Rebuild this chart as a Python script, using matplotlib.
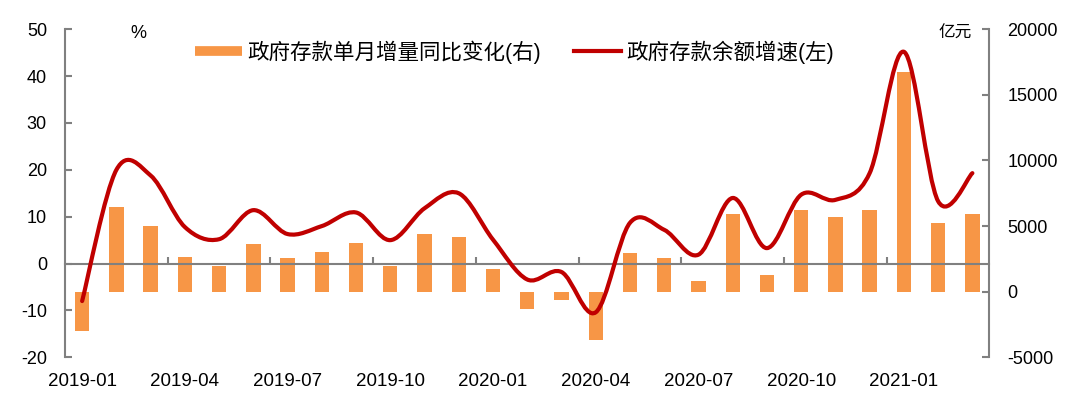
import numpy as np
import matplotlib
matplotlib.use('Agg')
import matplotlib.pyplot as plt
from matplotlib.path import Path
from matplotlib.patches import PathPatch
from matplotlib.lines import Line2D

plt.rcParams['font.family'] = ['Liberation Sans', 'Noto Sans CJK SC', 'DejaVu Sans']
plt.rcParams['axes.unicode_minus'] = False

months = ['2019-01', '2019-02', '2019-03', '2019-04', '2019-05', '2019-06',
          '2019-07', '2019-08', '2019-09', '2019-10', '2019-11', '2019-12',
          '2020-01', '2020-02', '2020-03', '2020-04', '2020-05', '2020-06',
          '2020-07', '2020-08', '2020-09', '2020-10', '2020-11', '2020-12',
          '2021-01', '2021-02', '2021-03']

# 政府存款单月增量同比变化, 亿元 (right axis)
deposit_change = [-3000, 6450, 5020, 2630, 1940, 3630, 2530, 3030, 3730,
                  1940, 4400, 4180, 1700, -1290, -620, -3700, 2940, 2570,
                  800, 5890, 1240, 6220, 5680, 6240, 16770, 5250, 5950]

# 政府存款余额增速, % (left axis)
deposit_growth = [-8.0, 20.0, 18.8, 7.8, 5.2, 11.4, 6.3, 8.0, 10.9,
                  5.0, 11.8, 15.0, 5.1, -3.4, -1.8, -10.4, 8.7, 7.2,
                  1.9, 14.0, 3.3, 14.7, 13.6, 19.3, 45.2, 13.3, 19.3]

label_every = 3
bar_label = '政府存款单月增量同比变化(右)'
line_label = '政府存款余额增速(左)'

BAR_COLOR = '#F79646'
LINE_COLOR = '#C00000'
GREY = '#808080'


def smooth_path(xs, ys):
    # excel-like smoothed line: cubic bezier through every point
    n = len(xs)
    verts = [(xs[0], ys[0])]
    codes = [Path.MOVETO]
    for i in range(n - 1):
        a = i - 1 if i > 0 else i
        d = i + 2 if i + 2 < n else i + 1
        c1 = (xs[i] + (xs[i + 1] - xs[a]) / 6, ys[i] + (ys[i + 1] - ys[a]) / 6)
        c2 = (xs[i + 1] - (xs[d] - xs[i]) / 6, ys[i + 1] - (ys[d] - ys[i]) / 6)
        verts += [c1, c2, (xs[i + 1], ys[i + 1])]
        codes += [Path.CURVE4] * 3
    return Path(verts, codes)


def main():
    x = np.arange(len(months))

    fig = plt.figure(figsize=(10.8, 4.05), dpi=100)
    ax = fig.add_axes([0.0602, 0.1178, 0.856, 0.8099])
    ax2 = ax.twinx()

    # bars on the right axis, drawn underneath
    ax2.bar(x, deposit_change, width=0.42, color=BAR_COLOR, zorder=2)
    ax.set_zorder(ax2.get_zorder() + 1)
    ax.patch.set_visible(False)

    line = PathPatch(smooth_path(x, deposit_growth), fill=False,
                     edgecolor=LINE_COLOR, lw=3, capstyle='round',
                     joinstyle='round', zorder=4)
    ax.add_patch(line)

    ax.set_xlim(-0.5, len(months) - 0.5)
    ax.set_ylim(-20, 50)
    ax.set_yticks(range(-20, 51, 10))
    ax2.set_ylim(-5000, 20000)
    ax2.set_yticks(range(-5000, 20001, 5000))

    # spines
    for a in (ax, ax2):
        a.spines['top'].set_visible(False)
    ax.spines['right'].set_visible(False)
    ax2.spines['left'].set_visible(False)
    ax2.spines['bottom'].set_visible(False)
    ax.spines['left'].set_color(GREY)
    ax.spines['left'].set_linewidth(1.5)
    ax2.spines['right'].set_color(GREY)
    ax2.spines['right'].set_linewidth(1.5)
    ax.spines['bottom'].set_position(('data', 0))
    ax.spines['bottom'].set_color(GREY)
    ax.spines['bottom'].set_linewidth(1.5)

    # x ticks: marks between quarters on the zero line, labels at the bottom
    ax.set_xticks(x[::label_every])
    ax.set_xticks(x[::label_every][1:] - 0.5, minor=True)
    ax.tick_params(axis='x', which='major', length=0, labelbottom=False)
    ax.tick_params(axis='x', which='minor', direction='in', length=5,
                   width=1.5, color=GREY)
    ax2.xaxis.set_visible(True)
    ax2.set_xticks(x[::label_every])
    ax2.set_xticklabels(months[::label_every])
    ax2.tick_params(axis='x', which='both', length=0, bottom=False,
                    top=False, labelbottom=True, labeltop=False,
                    labelsize=13.5, pad=11)

    ax.tick_params(axis='y', direction='in', length=5, width=1.5, color=GREY,
                   labelsize=13, pad=13)
    ax2.tick_params(axis='y', direction='in', length=5, width=1.5, color=GREY,
                    labelsize=13, pad=13)

    fig.text(138 / 1080, 1 - 33 / 405, '%', fontsize=13, ha='center', va='center')
    fig.text(955 / 1080, 1 - 33 / 405, '亿元', fontsize=12, ha='center', va='center')

    handles = [Line2D([], [], color=BAR_COLOR, lw=7, solid_capstyle='butt'),
               Line2D([], [], color=LINE_COLOR, lw=3)]
    fig.legend(handles, [bar_label, line_label], ncol=2, frameon=False,
               loc='center left', bbox_to_anchor=(195 / 1080, 1 - 52 / 405),
               fontsize=15.5, handlelength=2.2, handletextpad=0.25,
               columnspacing=1.5, borderpad=0, borderaxespad=0)

    fig.savefig('out.png', dpi=100)


if __name__ == '__main__':
    main()
